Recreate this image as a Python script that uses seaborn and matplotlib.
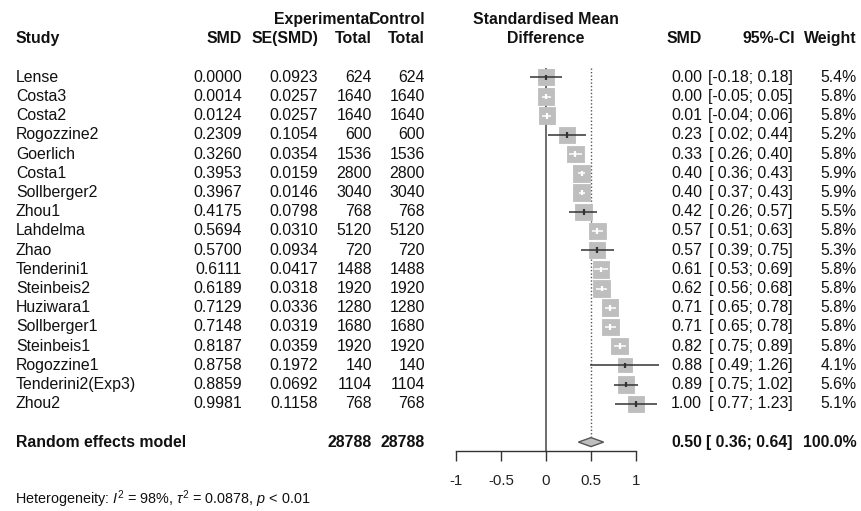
import numpy as np
import pandas as pd
import seaborn as sns
import matplotlib
matplotlib.use("Agg")
import matplotlib.pyplot as plt
from matplotlib.patches import Polygon
from matplotlib.transforms import blended_transform_factory

# ---------------- data ----------------
studies = ["Lense", "Costa3", "Costa2", "Rogozzine2", "Goerlich", "Costa1", "Sollberger2",
           "Zhou1", "Lahdelma", "Zhao", "Tenderini1", "Steinbeis2", "Huziwara1",
           "Sollberger1", "Steinbeis1", "Rogozzine1", "Tenderini2(Exp3)", "Zhou2"]
smd = [0.0000, 0.0014, 0.0124, 0.2309, 0.3260, 0.3953, 0.3967, 0.4175, 0.5694, 0.5700,
       0.6111, 0.6189, 0.7129, 0.7148, 0.8187, 0.8758, 0.8859, 0.9981]
se_smd = [0.0923, 0.0257, 0.0257, 0.1054, 0.0354, 0.0159, 0.0146, 0.0798, 0.0310, 0.0934,
          0.0417, 0.0318, 0.0336, 0.0319, 0.0359, 0.1972, 0.0692, 0.1158]
n_exp = [624, 1640, 1640, 600, 1536, 2800, 3040, 768, 5120, 720, 1488, 1920, 1280, 1680,
         1920, 140, 1104, 768]
n_ctrl = [624, 1640, 1640, 600, 1536, 2800, 3040, 768, 5120, 720, 1488, 1920, 1280, 1680,
          1920, 140, 1104, 768]
ci_lower = [-0.18, -0.05, -0.04, 0.02, 0.26, 0.36, 0.37, 0.26, 0.51, 0.39, 0.53, 0.56,
            0.65, 0.65, 0.75, 0.49, 0.75, 0.77]
ci_upper = [0.18, 0.05, 0.06, 0.44, 0.40, 0.43, 0.43, 0.57, 0.63, 0.75, 0.69, 0.68,
            0.78, 0.78, 0.89, 1.26, 1.02, 1.23]
weights = [5.4, 5.8, 5.8, 5.2, 5.8, 5.9, 5.9, 5.5, 5.8, 5.3, 5.8, 5.8, 5.8, 5.8, 5.8,
           4.1, 5.6, 5.1]
re_est, re_lower, re_upper = 0.50, 0.36, 0.64
total_exp, total_ctrl = 28788, 28788
xticks = [-1, -0.5, 0, 0.5, 1]
xtick_labels = ["-1", "-0.5", "0", "0.5", "1"]

df = pd.DataFrame({"study": studies, "smd": smd, "se": se_smd, "n_e": n_exp, "n_c": n_ctrl,
                   "lo": ci_lower, "hi": ci_upper, "w": weights})
df["row"] = np.arange(len(df))

# ---------------- layout ----------------
W, H, DPI = 862, 511, 100
sns.set_theme(style="white")
plt.rcParams["font.family"] = ["Liberation Sans", "DejaVu Sans"]
plt.rcParams["mathtext.fontset"] = "custom"
plt.rcParams["mathtext.rm"] = "Liberation Sans"
plt.rcParams["mathtext.it"] = "Liberation Sans:italic"
plt.rcParams["mathtext.bf"] = "Liberation Sans:bold"

fig = plt.figure(figsize=(W / DPI, H / DPI), dpi=DPI)
fig.patch.set_facecolor("white")

x_left_px, x_right_px = 456, 636
axis_px = 451
row0_px, row_h = 77.3, 19.2
ax = fig.add_axes([x_left_px / W, (H - axis_px) / H, (x_right_px - x_left_px) / W, axis_px / H])
ax.set_facecolor("none")
ax.set_xlim(-1, 1)
ax.set_ylim((axis_px - row0_px) / row_h, -row0_px / row_h)
px_per_unit = (x_right_px - x_left_px) / 2.0

FS = 11.4
dark = "#333333"
box_col = "#BEBEBE"
re_row = len(df) + 1

# reference lines
ax.vlines(0, -0.5, ax.get_ylim()[0], color="#555555", lw=1.2, zorder=1, clip_on=False)
ax.vlines(re_est, -0.5, re_row - 0.24, color="#555555", lw=1.0, ls=(0, (1, 1.5)),
          zorder=1, clip_on=False)

# squares
max_side_px = 16.8
side_px = max_side_px * np.sqrt(df["w"] / df["w"].max())
side_pt = side_px * 72 / DPI
sns.scatterplot(data=df, x="smd", y="row", marker="s", s=(side_pt ** 2).values,
                color=box_col, edgecolor=box_col, linewidth=0.6, ax=ax, zorder=2,
                clip_on=False, legend=False)

# CI lines + estimate ticks
inside = (df["hi"] - df["lo"]) * px_per_unit <= side_px
line_cols = np.where(inside, "white", dark)
ax.hlines(df["row"], df["lo"], df["hi"], colors=line_cols, lw=1.1, zorder=3, clip_on=False)
tick_h = 2.8 / row_h
ax.vlines(df["smd"], df["row"] - tick_h, df["row"] + tick_h, colors=line_cols, lw=1.6,
          zorder=3, clip_on=False)

# summary diamond
dh = 4.5 / row_h
diamond = Polygon([[re_lower, re_row], [re_est, re_row - dh], [re_upper, re_row],
                   [re_est, re_row + dh]], closed=True, facecolor=box_col,
                  edgecolor="#555555", lw=1.0, zorder=3, clip_on=False)
ax.add_patch(diamond)

# axis
for s in ["top", "right", "left"]:
    ax.spines[s].set_visible(False)
ax.spines["bottom"].set_color(dark)
ax.spines["bottom"].set_linewidth(1.0)
ax.set_xticks(xticks)
ax.set_xticklabels(xtick_labels, fontsize=10.8, color="#222222")
ax.tick_params(axis="x", direction="out", length=7.2, width=1.0, color=dark, pad=9.5,
               bottom=True)
ax.set_yticks([])
ax.set_xlabel("")
ax.set_ylabel("")
ax.grid(False)

# ---------------- text columns ----------------
tr = blended_transform_factory(fig.transFigure, ax.transData)

def put(xpx, row, s, ha="right", bold=False, size=FS):
    ax.text(xpx / W, row, s, transform=tr, ha=ha, va="center", fontsize=size,
            fontweight="bold" if bold else "normal", color="#111111", clip_on=False)

h1, h2 = -3, -2
put(16, h2, "Study", ha="left", bold=True)
put(242, h2, "SMD", bold=True)
put(318, h2, "SE(SMD)", bold=True)
put(374, h1, "Experimental", bold=True)
put(372, h2, "Total", bold=True)
put(425, h1, "Control", bold=True)
put(425, h2, "Total", bold=True)
put(546, h1, "Standardised Mean", ha="center", bold=True)
put(546, h2, "Difference", ha="center", bold=True)
put(702, h2, "SMD", bold=True)
put(795, h2, "95%-CI", bold=True)
put(857, h2, "Weight", bold=True)

def fmt_ci(lo, hi):
    a = f"{lo:.2f}" if lo < 0 else f" {lo:.2f}"
    b = f"{hi:.2f}" if hi < 0 else f" {hi:.2f}"
    return f"[{a};{b}]"

for _, r in df.iterrows():
    i = r["row"]
    put(16, i, r["study"], ha="left")
    put(242, i, f"{r['smd']:.4f}")
    put(318, i, f"{r['se']:.4f}")
    put(372, i, f"{int(r['n_e'])}")
    put(425, i, f"{int(r['n_c'])}")
    put(702, i, f"{r['smd']:.2f}")
    put(793, i, fmt_ci(r["lo"], r["hi"]))
    put(857, i, f"{r['w']:.1f}%")

put(16, re_row, "Random effects model", ha="left", bold=True)
put(372, re_row, f"{total_exp}", bold=True)
put(425, re_row, f"{total_ctrl}", bold=True)
put(702, re_row, f"{re_est:.2f}", bold=True)
put(793, re_row, fmt_ci(re_lower, re_upper), bold=True)
put(857, re_row, "100.0%", bold=True)

fig.text(15 / W, 1 - 499 / H,
         r"Heterogeneity: $I^2$ = 98%, $\tau^2$ = 0.0878, $p$ < 0.01",
         ha="left", va="center", fontsize=10.4, color="#111111")

fig.savefig("out.png", dpi=DPI, facecolor="white")
